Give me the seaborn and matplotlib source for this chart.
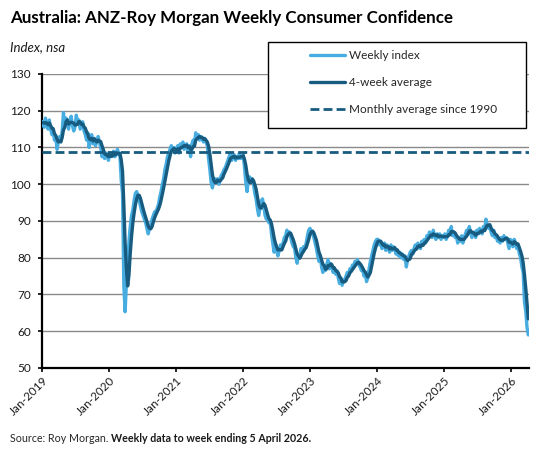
import numpy as np
import pandas as pd
import matplotlib
matplotlib.use("Agg")
import matplotlib.pyplot as plt
import matplotlib.dates as mdates
from matplotlib.patches import Rectangle
from matplotlib.lines import Line2D
import seaborn as sns

# Weekly index (week ending Sunday).
# Starts 16 Dec 2018 so the 4-week average is already defined in Jan 2019.
weekly_2018 = [116.0, 117.5, 116.5]
weekly_2019 = [117.0, 115.5, 118.0, 116.2, 115.0,
               117.5, 115.0, 113.5, 114.5,
               112.0, 113.0, 109.5, 111.5,
               113.0, 112.0, 114.5, 119.5, 116.0,
               118.0, 116.5, 115.0, 117.5,
               118.5, 116.0, 114.5, 115.5,
               118.8, 116.5, 117.5, 115.0, 116.0,
               117.0, 114.5, 113.5, 112.0,
               114.0, 110.0, 112.5, 113.5,
               111.0, 112.5, 110.5, 112.0, 113.0,
               111.5, 110.0, 107.5, 109.0,
               107.0, 108.5, 108.0, 106.5]
weekly_2020 = [108.5, 107.5, 108.0, 109.0,
               107.5, 108.0, 109.5, 108.5,
               107.5, 101.0, 97.5, 72.5, 65.3,
               73.0, 78.5, 84.5, 88.5,
               91.5, 93.0, 95.5, 97.5, 98.0,
               97.0, 95.5, 94.0, 92.5,
               91.5, 90.5, 89.5, 88.0,
               86.5, 88.0, 89.0, 90.5, 91.5,
               92.5, 92.5, 93.5, 94.5,
               96.5, 98.0, 100.0, 101.5,
               104.0, 105.5, 107.5, 108.5, 109.5,
               110.5, 109.0, 110.0, 108.5]
weekly_2021 = [109.5, 110.5, 108.5, 111.0, 110.0,
               111.5, 109.5, 110.5, 111.0,
               109.0, 110.5, 107.5, 111.0,
               112.0, 111.0, 114.0, 112.5,
               113.5, 112.0, 113.0, 112.5, 111.5,
               112.5, 111.5, 110.5, 107.0,
               104.0, 100.5, 99.0, 101.0,
               101.5, 100.5, 101.5, 100.0, 101.5,
               102.5, 103.0, 104.0, 104.5,
               105.5, 106.5, 107.5, 108.5, 106.5,
               107.5, 108.0, 106.5, 107.5,
               107.0, 108.5, 107.0, 107.5]
weekly_2022 = [108.0, 104.5, 100.5, 98.0, 101.5,
               102.0, 100.5, 101.5, 100.0,
               97.5, 96.0, 93.5, 91.5,
               93.5, 95.5, 96.0, 94.0,
               91.5, 90.5, 91.0, 89.5, 90.0,
               86.5, 84.0, 81.5, 84.0,
               82.5, 80.5, 82.0, 83.5, 82.5,
               84.0, 85.5, 86.0, 87.5,
               86.5, 87.0, 85.5, 84.0,
               83.0, 82.5, 80.0, 78.5, 81.0,
               80.0, 82.5, 81.5, 83.0,
               82.5, 84.0, 86.0, 87.5]
weekly_2023 = [88.0, 86.5, 87.0, 85.5, 84.0,
               82.5, 80.5, 79.0, 80.5,
               77.5, 76.0, 77.5, 76.5,
               78.0, 79.5, 77.0, 78.5, 77.5,
               76.0, 77.0, 75.5, 76.5,
               74.5, 73.0, 74.0, 72.5,
               74.0, 73.5, 75.0, 76.0, 75.5,
               77.0, 76.5, 78.0, 77.5,
               79.0, 78.5, 79.5, 78.0,
               77.5, 76.5, 77.0, 75.0, 76.0,
               73.5, 74.5, 77.0, 79.0,
               80.5, 82.0, 83.5, 84.5, 85.0]
weekly_2024 = [85.0, 83.5, 84.5, 82.5,
               83.0, 84.0, 82.0, 83.5,
               82.5, 81.5, 83.5, 82.0, 83.0,
               82.5, 81.0, 82.0, 80.5,
               81.5, 80.0, 81.0, 79.5,
               80.5, 77.5, 79.5, 80.5, 81.5,
               82.0, 81.0, 82.5, 83.5,
               82.5, 84.0, 83.0, 82.5,
               84.5, 83.5, 85.0, 84.0, 86.0,
               85.5, 87.0, 86.0, 85.5,
               87.5, 86.0, 85.0, 86.5,
               85.5, 86.5, 85.0, 86.0, 85.5]
weekly_2025 = [86.5, 85.0, 86.0, 87.5,
               86.5, 88.5, 86.0, 87.0,
               85.5, 86.0, 84.0, 85.5, 84.5,
               86.0, 84.0, 85.5, 86.5,
               87.5, 86.5, 88.5, 87.0,
               85.5, 86.5, 87.0, 85.5, 87.5,
               86.5, 88.0, 87.0, 86.5,
               88.5, 87.5, 90.5, 89.0, 88.0,
               88.5, 87.0, 86.0, 87.5,
               85.5, 86.0, 84.5, 85.0,
               84.0, 85.5, 84.5, 86.0, 85.0,
               85.5, 84.0, 82.5, 85.0]
weekly_2026 = [84.5, 83.0, 85.0, 84.0,
               82.5, 83.5, 81.0, 80.0,
               77.5, 76.0, 68.0, 65.5, 61.0,
               59.0]

avg_since_1990 = 108.7

first_week = "2018-12-16"
last_week = "2026-04-05"

title = "Australia: ANZ-Roy Morgan Weekly Consumer Confidence"
unit_label = "Index, nsa"
labels = ["Weekly index", "4-week average", "Monthly average since 1990"]
source_plain = "Source: Roy Morgan. "
source_bold = "Weekly data to week ending 5 April 2026."

LIGHT = "#47ADE0"
DARK = "#175C80"

weekly = (weekly_2018 + weekly_2019 + weekly_2020 + weekly_2021 + weekly_2022
          + weekly_2023 + weekly_2024 + weekly_2025 + weekly_2026)
weeks = pd.date_range(first_week, periods=len(weekly), freq="7D")
assert weeks[-1] == pd.Timestamp(last_week), weeks[-1]

df = pd.DataFrame({"week": weeks, "weekly": weekly})
df["avg4"] = df["weekly"].rolling(4).mean()

sns.set_style("white")
plt.rcParams["font.family"] = ["Lato", "DejaVu Sans"]

W, H = 548, 454
fig = plt.figure(figsize=(W / 100, H / 100), dpi=100)
ax = fig.add_axes([42 / W, 1 - 368 / H, (528.5 - 42) / W, (368 - 74) / H])

sns.lineplot(data=df, x="week", y="weekly", ax=ax, color=LIGHT, lw=2.4,
             legend=False, zorder=3)
sns.lineplot(data=df.dropna(), x="week", y="avg4", ax=ax, color=DARK, lw=2.4,
             legend=False, zorder=4)
ax.axhline(avg_since_1990, color=DARK, lw=2.0, dashes=(3.2, 1.5), zorder=5)

ax.set_xlim(pd.Timestamp("2019-01-01"), pd.Timestamp("2026-04-06"))
ax.set_ylim(50, 130)
ax.set_yticks(np.arange(50, 131, 10))
ax.xaxis.set_major_locator(mdates.YearLocator())
ax.xaxis.set_major_formatter(mdates.DateFormatter("%b-%Y"))
ax.set_xlabel("")
ax.set_ylabel("")

ax.grid(axis="y", color="#8a8a8a", lw=1.0)
ax.grid(axis="x", visible=False)
ax.set_axisbelow(True)
for side in ["top", "right"]:
    ax.spines[side].set_visible(False)
for side in ["left", "bottom"]:
    ax.spines[side].set_color("black")
    ax.spines[side].set_linewidth(1.6)

ax.tick_params(axis="y", direction="out", length=3, width=1.2, color="black",
               labelsize=8.5, labelcolor="#1a1a1a", pad=5, left=True)
ax.tick_params(axis="x", direction="out", length=3, width=1.2, color="black",
               labelsize=8.5, labelcolor="#1a1a1a", pad=2, bottom=True)
for lab in ax.get_xticklabels():
    lab.set_rotation(45)
    lab.set_ha("right")
    lab.set_rotation_mode("anchor")

fig.text(10 / W, 1 - 18 / H, title, fontsize=12.2, fontweight="bold",
         va="center", ha="left", color="black")
fig.text(10 / W, 1 - 47 / H, unit_label, fontsize=9.5, style="italic",
         va="center", ha="left", color="#1a1a1a")

# legend box
fig.add_artist(Rectangle((268 / W, 1 - 128.5 / H), (525.5 - 268) / W, (128.5 - 42.5) / H,
                         transform=fig.transFigure, facecolor="white",
                         edgecolor="black", lw=1.0, zorder=5))
handles = [Line2D([], [], color=LIGHT, lw=2.4),
           Line2D([], [], color=DARK, lw=2.4),
           Line2D([], [], color=DARK, lw=2.0, dashes=(3.2, 1.5))]
leg = fig.legend(handles, labels, loc="upper left",
                 bbox_to_anchor=(310 / W, 1 - 50 / H), bbox_transform=fig.transFigure,
                 frameon=False, borderpad=0, borderaxespad=0, handlelength=3.0,
                 handletextpad=0.3, labelspacing=1.35, fontsize=8.5)
leg.set_zorder(6)
for t in leg.get_texts():
    t.set_color("#262626")

src = fig.text(10 / W, 1 - 439 / H, source_plain, fontsize=7.7, va="center",
               ha="left", color="#262626")
ax.annotate(source_bold, xy=(1, 0.5), xycoords=src, va="center", ha="left",
            fontsize=7.7, fontweight="bold", color="#1a1a1a", annotation_clip=False)

fig.savefig("out.png", dpi=100)
